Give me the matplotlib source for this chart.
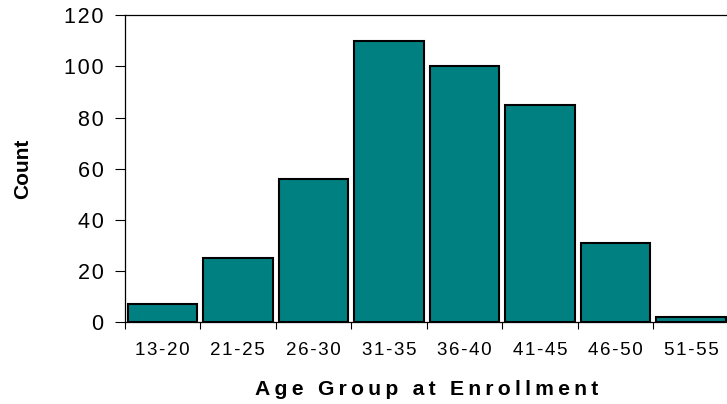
import matplotlib
matplotlib.use("Agg")
import matplotlib.pyplot as plt

# age groups and counts
age_groups = ["13-20", "21-25", "26-30", "31-35", "36-40", "41-45", "46-50", "51-55"]
counts = [7, 25, 56, 110, 100, 85, 31, 2]
y_ticks = [0, 20, 40, 60, 80, 100, 120]

plt.rcParams['font.family'] = ['Liberation Sans', 'DejaVu Sans']


def spaced(s, sep="\u200a"):
    # rough letter spacing like the original
    return sep.join(s)


fig = plt.figure(figsize=(7.27, 4.04), dpi=100)
ax = fig.add_axes([124.5 / 727, 1 - 322.3 / 404, (729 - 124.5) / 727, (322.3 - 15.3) / 404])

x = list(range(len(age_groups)))
ax.bar(x, counts, width=0.92, color="#008080", edgecolor="black", linewidth=1.5, zorder=3)

ax.set_xlim(-0.5, len(age_groups) - 0.5)
ax.set_ylim(0, 120)
ax.set_yticks(y_ticks)
ax.set_yticklabels([spaced(str(v)) for v in y_ticks])
ax.tick_params(axis="y", direction="out", length=7, width=0.8, pad=8, labelsize=15.5)

# boundary ticks as major, group names as minor labels
ax.set_xticks([i - 0.5 for i in x])
ax.set_xticklabels([])
ax.set_xticks(x, minor=True)
ax.set_xticklabels([spaced(g) for g in age_groups], minor=True)
ax.tick_params(axis="x", which="major", direction="out", length=5, width=0.8)
ax.tick_params(axis="x", which="minor", length=0, pad=14, labelsize=13.5)

ax.spines["right"].set_visible(False)
for s in ["left", "top", "bottom"]:
    ax.spines[s].set_linewidth(0.9)

ax.set_ylabel("Count", fontsize=15, fontweight="bold", labelpad=23)
ax.set_xlabel(spaced("Age Group at Enrollment", "\u2009"), fontsize=15.2, fontweight="bold", labelpad=15)

fig.savefig("out.png", dpi=100)
